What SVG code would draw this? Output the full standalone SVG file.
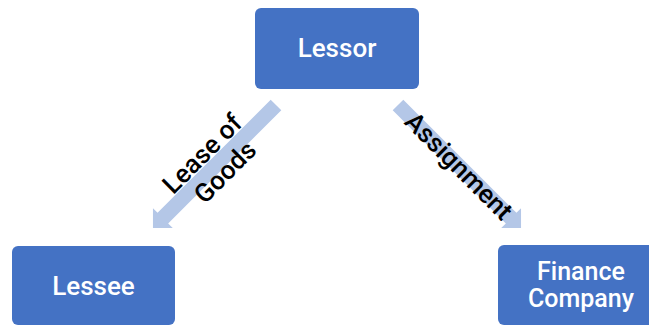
<svg xmlns="http://www.w3.org/2000/svg" width="649" height="326" viewBox="0 0 649 326">
  <defs>
    <style>
      .box { fill: #4472C4; }
      .box-label { fill: #FFFFFF; font-family: Roboto, "Noto Sans", sans-serif; font-weight: 500; text-anchor: middle; }
      .flow { fill: #B4C7E7; }
      .flow-label { fill: #000000; font-family: Roboto, "Noto Sans", sans-serif; font-weight: 500; font-size: 26px; text-anchor: middle; }
    </style>
    <!-- block arrow pointing along +x, 174 long -->
    <polygon id="block-arrow" points="0,-7.5 160,-7.5 160,-14 174,0 160,14 160,7.5 0,7.5"/>
  </defs>

  <g id="connectors">
    <g id="lease-of-goods">
      <use href="#block-arrow" class="flow" transform="translate(276,105) rotate(135)"/>
      <text class="flow-label" transform="translate(220,167) rotate(-45)">
        <tspan x="0" y="-13">Lease of</tspan>
        <tspan x="0" y="16">Goods</tspan>
      </text>
    </g>
    <g id="assignment">
      <use href="#block-arrow" class="flow" transform="translate(398,105) rotate(45)"/>
      <text class="flow-label" transform="translate(459,166) rotate(45)" x="0" y="9">Assignment</text>
    </g>
  </g>

  <g id="lessor">
    <rect class="box" x="255" y="8" width="164" height="81" rx="6"/>
    <text class="box-label" x="337" y="57" font-size="26">Lessor</text>
  </g>

  <g id="lessee">
    <rect class="box" x="12" y="246" width="163" height="79" rx="6"/>
    <text class="box-label" x="93.5" y="295" font-size="26">Lessee</text>
  </g>

  <g id="finance-company">
    <rect class="box" x="498" y="245" width="166" height="80" rx="6"/>
    <text class="box-label" x="581" y="280" font-size="25">Finance</text>
    <text class="box-label" x="581" y="307" font-size="25">Company</text>
  </g>
</svg>
